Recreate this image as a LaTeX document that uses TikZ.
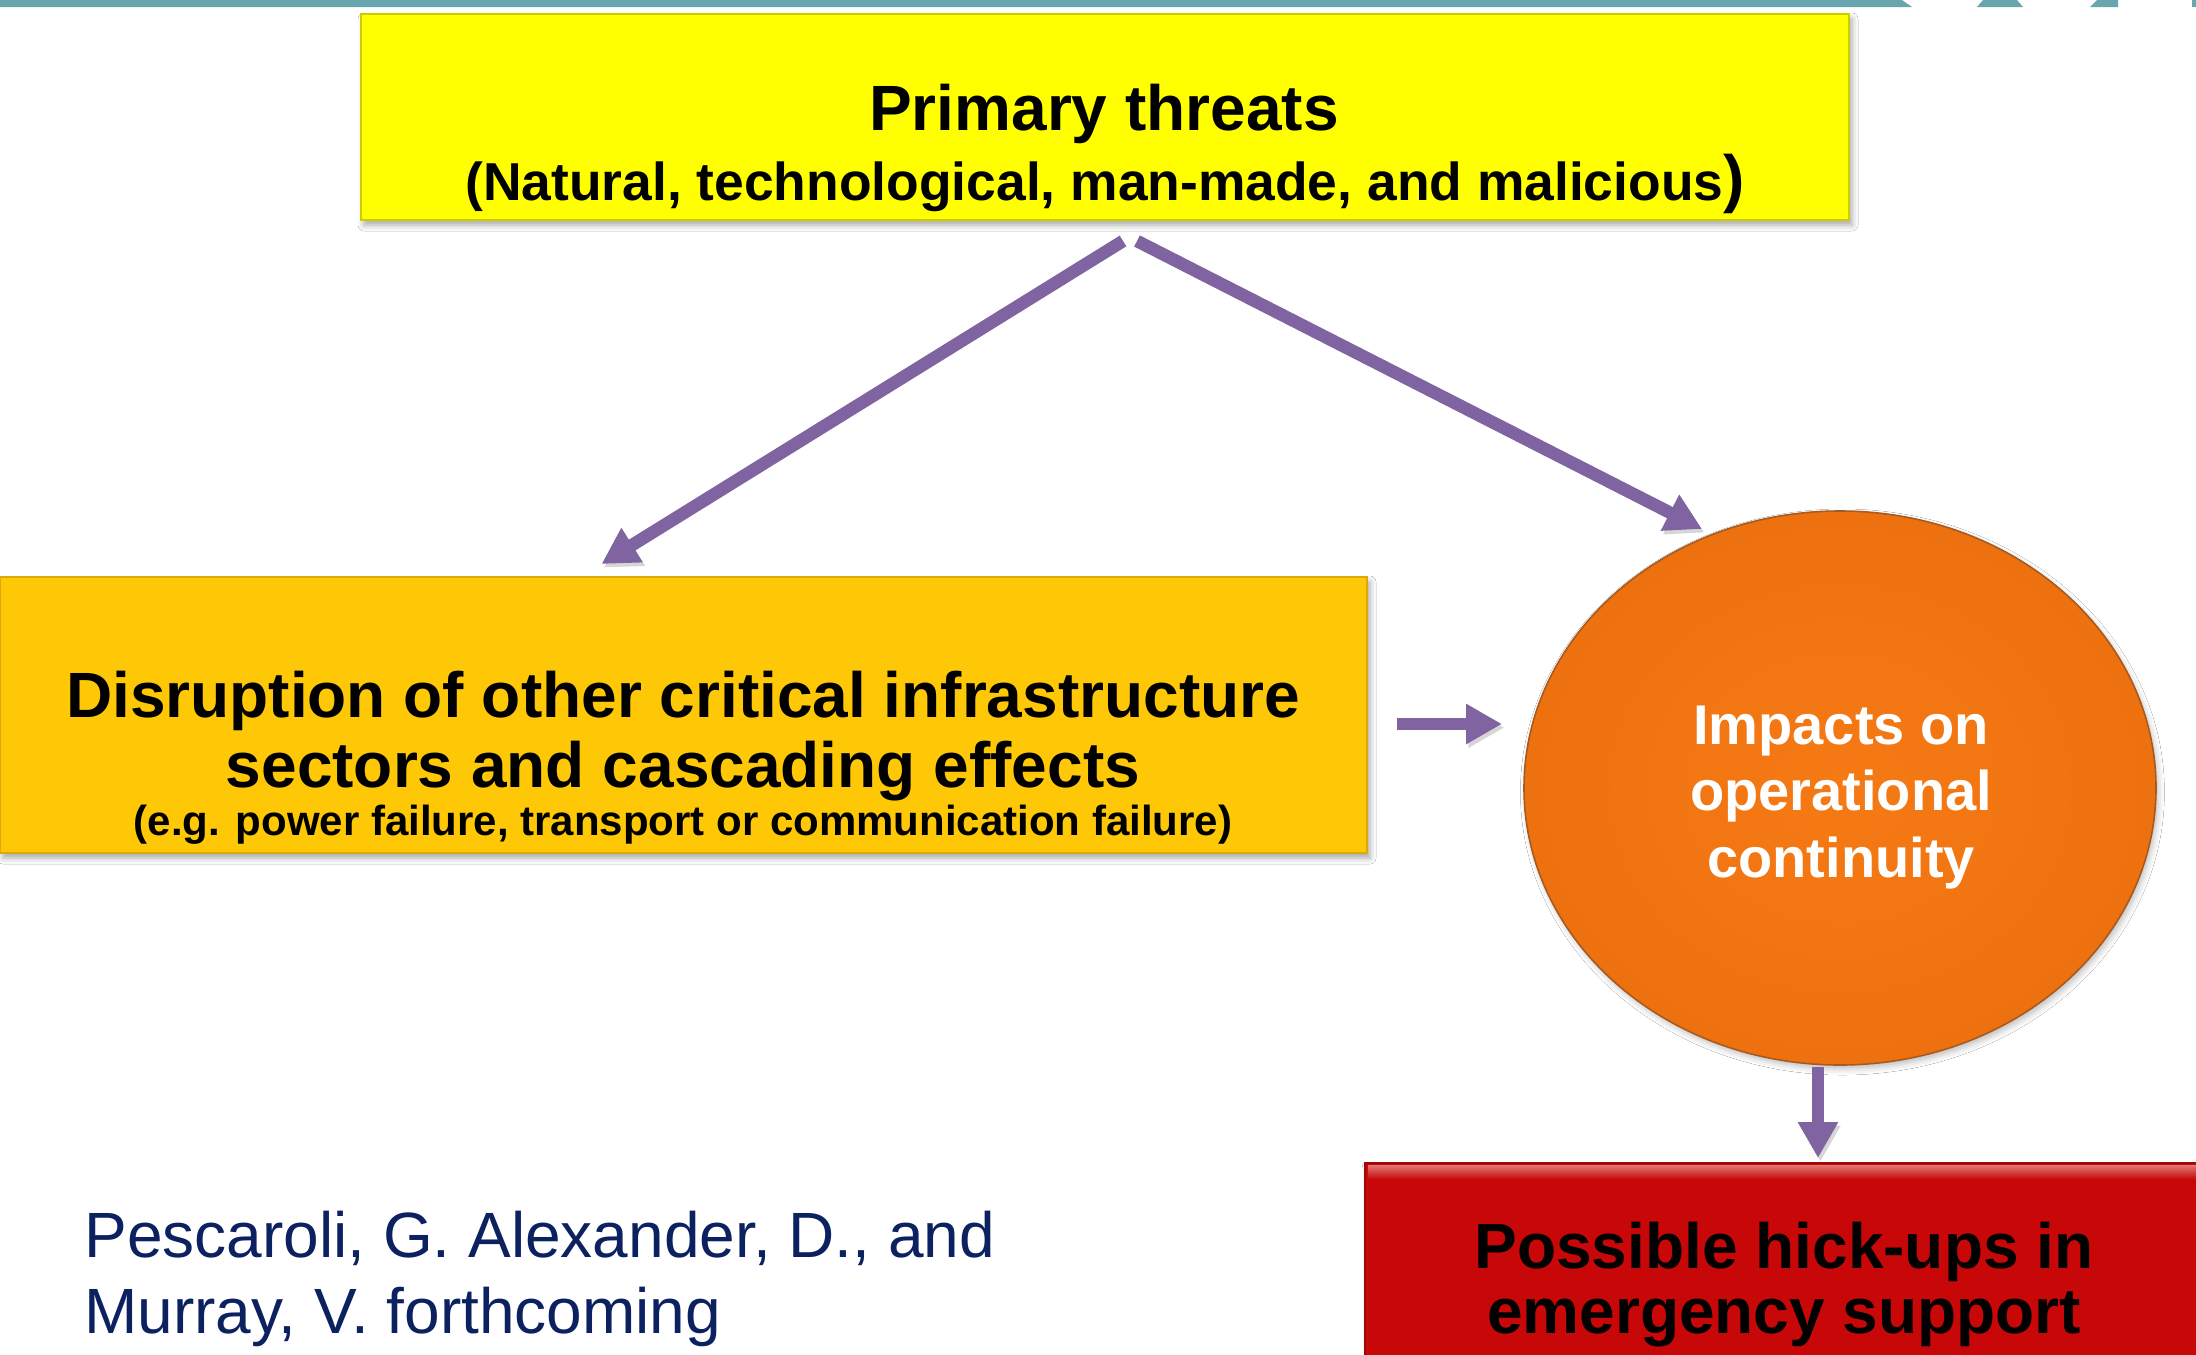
\documentclass[tikz,border=0pt]{standalone}
\usepackage{fontspec}
\setmainfont{Liberation Sans}
\usetikzlibrary{shapes.geometric,arrows.meta,shadows.blur,calc}
\definecolor{tealbar}{HTML}{67A5AF}
\definecolor{ythreat}{HTML}{FFFF00}
\definecolor{gold}{HTML}{FFC806}
\definecolor{impin}{HTML}{F57A14}
\definecolor{impout}{HTML}{EE7110}
\definecolor{impedge}{HTML}{A85A1E}
\definecolor{hred}{HTML}{C80808}
\definecolor{purp}{HTML}{8064A2}
\definecolor{navy}{HTML}{0C2160}
\begin{document}
\begin{tikzpicture}[x=0.5pt,y=-0.5pt,
  box/.style={inner sep=0pt, outer sep=0pt,
    blur shadow={shadow xshift=1.5pt, shadow yshift=-2.5pt, shadow blur radius=3pt, shadow opacity=35}},
  big/.style={anchor=base, inner sep=0pt, font=\bfseries\fontsize{32}{38}\selectfont},
  small/.style={anchor=base, inner sep=0pt, font=\bfseries\fontsize{21}{25}\selectfont},
  circtext/.style={anchor=base, inner sep=0pt, text=white, font=\bfseries\fontsize{28}{33}\selectfont},
  cite/.style={anchor=base west, inner sep=0pt, text=navy, font=\fontsize{32}{38}\selectfont},
  arr/.style={purp, line width=6.3pt, -{Triangle[length=18pt,width=19pt]},
    preaction={draw=black!45, opacity=0.35, transform canvas={shift={(1.2pt,-1.8pt)}}}}
]
\clip (0,0) rectangle (2196,1355);
\fill[white] (0,0) rectangle (2196,1355);

% top decorative bar
\fill[tealbar] (0,0) -- (1902,0) -- (1912,7) -- (0,7) -- cycle;
\fill[tealbar] (1983,0) -- (2017,0) -- (2023,7) -- (1977,7) -- cycle;
\fill[tealbar] (2097,0) -- (2118,0) -- (2118,7) -- (2090,7) -- cycle;
\fill[tealbar] (2192,0) -- (2196,0) -- (2196,7) -- (2192,7) -- cycle;

% boxes
\node[box, fill=ythreat, draw=ythreat!80!black, line width=0.8pt,
  minimum width=744pt, minimum height=103pt] (threats) at (1105,117) {};
\node[box, fill=gold, draw=gold!85!black, line width=0.8pt,
  minimum width=683.5pt, minimum height=138pt] (disrupt) at (683.5,715) {};
\node[ellipse, inner sep=0pt, outer sep=0pt, inner color=impin, outer color=impout,
  draw=impedge, line width=0.8pt,
  blur shadow={shadow xshift=1.2pt, shadow yshift=-2pt, shadow blur radius=3pt, shadow opacity=25},
  minimum width=316pt, minimum height=277pt] (impact) at (1840,788) {};
\node[box, fill=hred, draw=hred!80!black, line width=0.8pt,
  minimum width=419.5pt, minimum height=128.5pt] (hick) at (1784.5,1291.5) {};
\shade[top color=hred!55!white, bottom color=hred]
  ($(hick.north west)+(3,2)$) rectangle ($(hick.north east)+(-3,16)$);

% texts
\node[big] (t1) at (1104,130) {Primary threats};
\node[anchor=base, inner sep=0pt, font=\bfseries\fontsize{26.7}{32}\selectfont] (t2) at (1105,200)
  {(Natural, technological, man-made, and malicious{\fontsize{32}{38}\selectfont)}};

\node[big] (d1) at (683,717) {Disruption of other critical infrastructure};
\node[big] (d2) at (683,787) {sectors and cascading effects};
\node[small] (d3) at (683,835) {(e.g. power failure, transport or communication failure)};

\node[circtext] (c1) at (1841,744) {Impacts on};
\node[circtext] (c2) at (1841,810) {operational};
\node[circtext] (c3) at (1841,877) {continuity};

\node[big] (h1) at (1784,1268) {Possible hick-ups in};
\node[big] (h2) at (1784,1333) {emergency support};

\node[cite] (r1) at (84,1257) {Pescaroli, G. Alexander, D., and};
\node[cite] (r2) at (84,1333) {Murray, V. forthcoming};

% connectors
\draw[arr] ([shift={(18,21)}]threats.south) -- ([shift={(-82,-13)}]disrupt.north);
\draw[arr] ([shift={(32,21)}]threats.south) -- ([shift={(-138,-259)}]impact.center);
\draw[arr] ([shift={(30,9)}]disrupt.east) -- ([shift={(-22,-64)}]impact.west);
\draw[arr] ([shift={(-22,2)}]impact.south) -- ([shift={(33.5,-5)}]hick.north);
\end{tikzpicture}
\end{document}
